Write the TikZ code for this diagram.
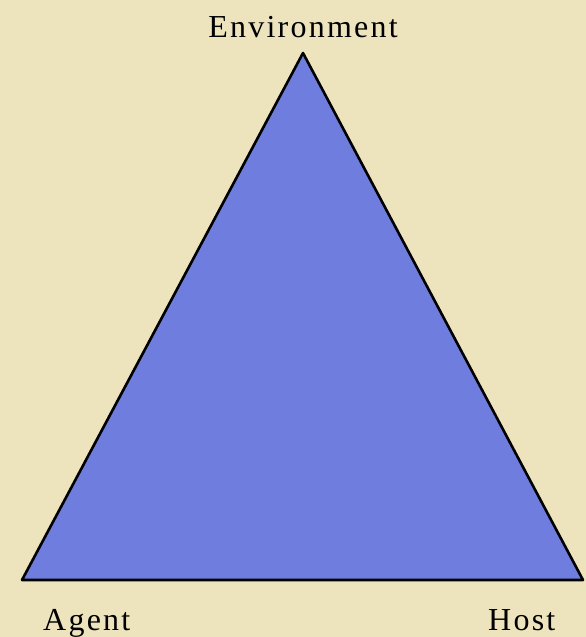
\documentclass[tikz,border=0pt]{standalone}
\usepackage{fontspec}
\setmainfont{Liberation Serif}
\usetikzlibrary{positioning,calc}
\definecolor{paper}{RGB}{237,228,190}
\definecolor{trifill}{RGB}{111,125,222}

\begin{document}
\begin{tikzpicture}[
    x=1pt, y=-1pt,
    corner/.style={font=\fontsize{32}{38}\selectfont\addfontfeature{LetterSpace=7}, inner sep=0pt},
    side/.style={draw=black, line width=2.6pt, line join=round, fill=trifill}
]

% Background
\fill[paper] (0,0) rectangle (586,637);
\useasboundingbox (0,0) rectangle (586,637);

% Triangle corners
\coordinate (env) at (303,53);
\coordinate (agent) at (22,580);
\coordinate (host) at (583,580);

\draw[side] (env) -- (agent) -- (host) -- cycle;

% Labels
\node[corner, anchor=base] (envlabel) at (303,37) {Environment};
\node[corner, anchor=base west] (agentlabel) at (43,630) {Agent};
\node[corner, anchor=base west] (hostlabel) at (488,630) {Host};

\end{tikzpicture}
\end{document}
